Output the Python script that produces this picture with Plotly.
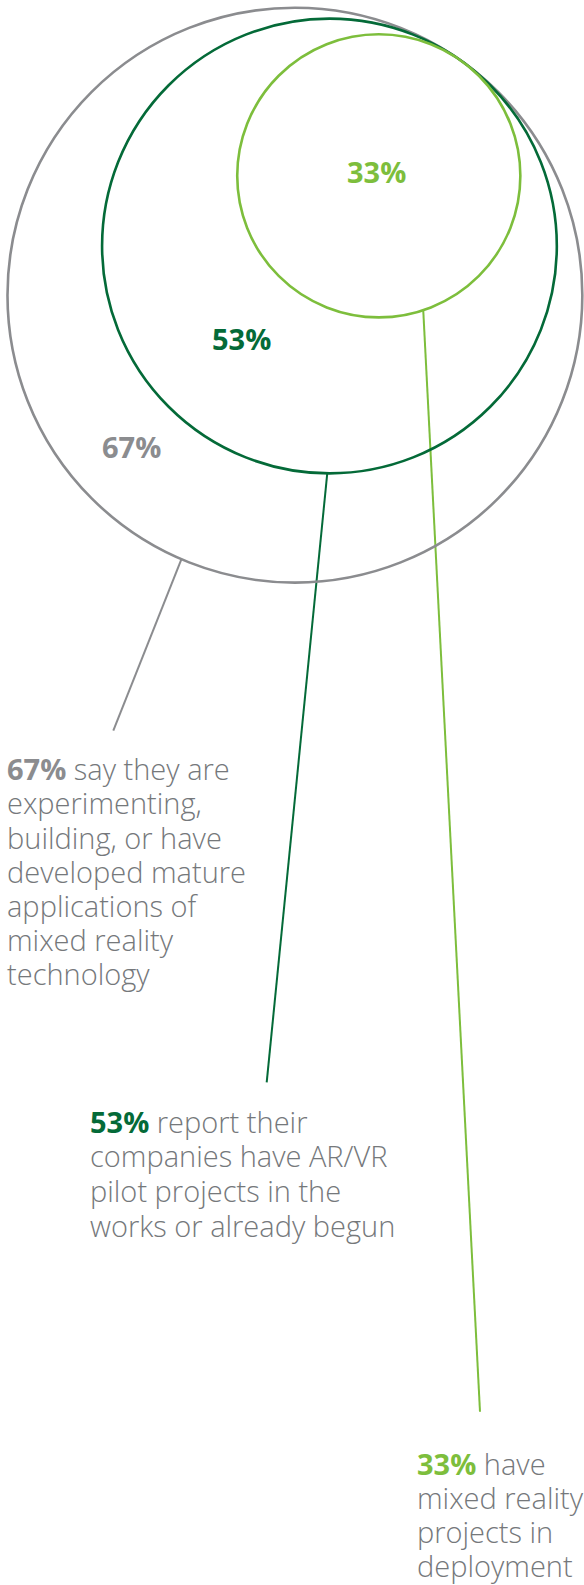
import math
import plotly.graph_objects as go

# ---- data ----
labels = ["67%", "53%", "33%"]
values = [67, 53, 33]
descriptions = [
    ["say they are", "experimenting,", "building, or have", "developed mature",
     "applications of", "mixed reality", "technology"],
    ["report their", "companies have AR/VR", "pilot projects in the", "works or already begun"],
    ["have", "mixed reality", "projects in", "deployment"],
]
colors = ["#8b8c8f", "#046A38", "#7DBE3C"]

# ---- layout parameters (pixel space; axes map 1 unit = 1 px) ----
W, H = 584, 1585
px_per_pct = 4.29
tangent_pt = (460.2, 60.0)
tangent_dir = (0.575, -0.818)
label_pos = [(131.3, 446.0), (241.7, 338.7), (376.7, 171.2)]
leader_angle_deg = [113.25, 90.55, 71.7]
leader_end = [(113.3, 730.7), (266.7, 1082.3), (480.0, 1411.7)]
text_left = [4.8, 88.2, 415.2]
text_first_baseline = [780.0, 1132.3, 1474.3]
line_step = [34.2, 34.8, 34.1]
body_size = 29
text_color = "#75787B"
font_family = "Open Sans"

n = math.hypot(*tangent_dir)
dx, dy = tangent_dir[0] / n, tangent_dir[1] / n

fig = go.Figure()
shapes = []
annotations = []
for i, v in enumerate(values):
    r = v * px_per_pct
    cx = tangent_pt[0] - r * dx
    cy = tangent_pt[1] - r * dy
    shapes.append(dict(type="circle", xref="x", yref="y",
                       x0=cx - r, x1=cx + r, y0=cy - r, y1=cy + r,
                       line=dict(color=colors[i], width=2.6),
                       fillcolor="rgba(0,0,0,0)", layer="above"))
    a = math.radians(leader_angle_deg[i])
    sx, sy = cx + r * math.cos(a), cy + r * math.sin(a)
    fig.add_trace(go.Scatter(x=[sx, leader_end[i][0]], y=[sy, leader_end[i][1]],
                             mode="lines", line=dict(color=colors[i], width=2),
                             hoverinfo="skip", showlegend=False))
    annotations.append(dict(x=label_pos[i][0], y=label_pos[i][1], xref="x", yref="y",
                            text="<b>%s</b>" % labels[i], showarrow=False,
                            xanchor="center", yanchor="middle",
                            font=dict(family=font_family, size=29, color=colors[i])))
    for k, line in enumerate(descriptions[i]):
        if k == 0:
            txt = "<span style='color:%s'><b>%s</b></span> %s" % (colors[i], labels[i], line)
        else:
            txt = line
        base = text_first_baseline[i] + k * line_step[i]
        annotations.append(dict(x=text_left[i], y=base - 0.388 * body_size, xref="x", yref="y",
                                text=txt, showarrow=False, xanchor="left", yanchor="middle",
                                align="left",
                                font=dict(family=font_family, size=body_size,
                                          color=text_color, weight=300)))

fig.update_layout(
    width=W, height=H, autosize=False,
    margin=dict(l=0, r=0, t=0, b=0),
    paper_bgcolor="white", plot_bgcolor="white",
    xaxis=dict(range=[0, W], visible=False, fixedrange=True),
    yaxis=dict(range=[H, 0], visible=False, fixedrange=True),
    shapes=shapes, annotations=annotations, showlegend=False,
)
fig.write_html("out.html", config={"displayModeBar": False},
               post_script="document.body.style.margin='0';document.body.style.overflow='hidden';")
